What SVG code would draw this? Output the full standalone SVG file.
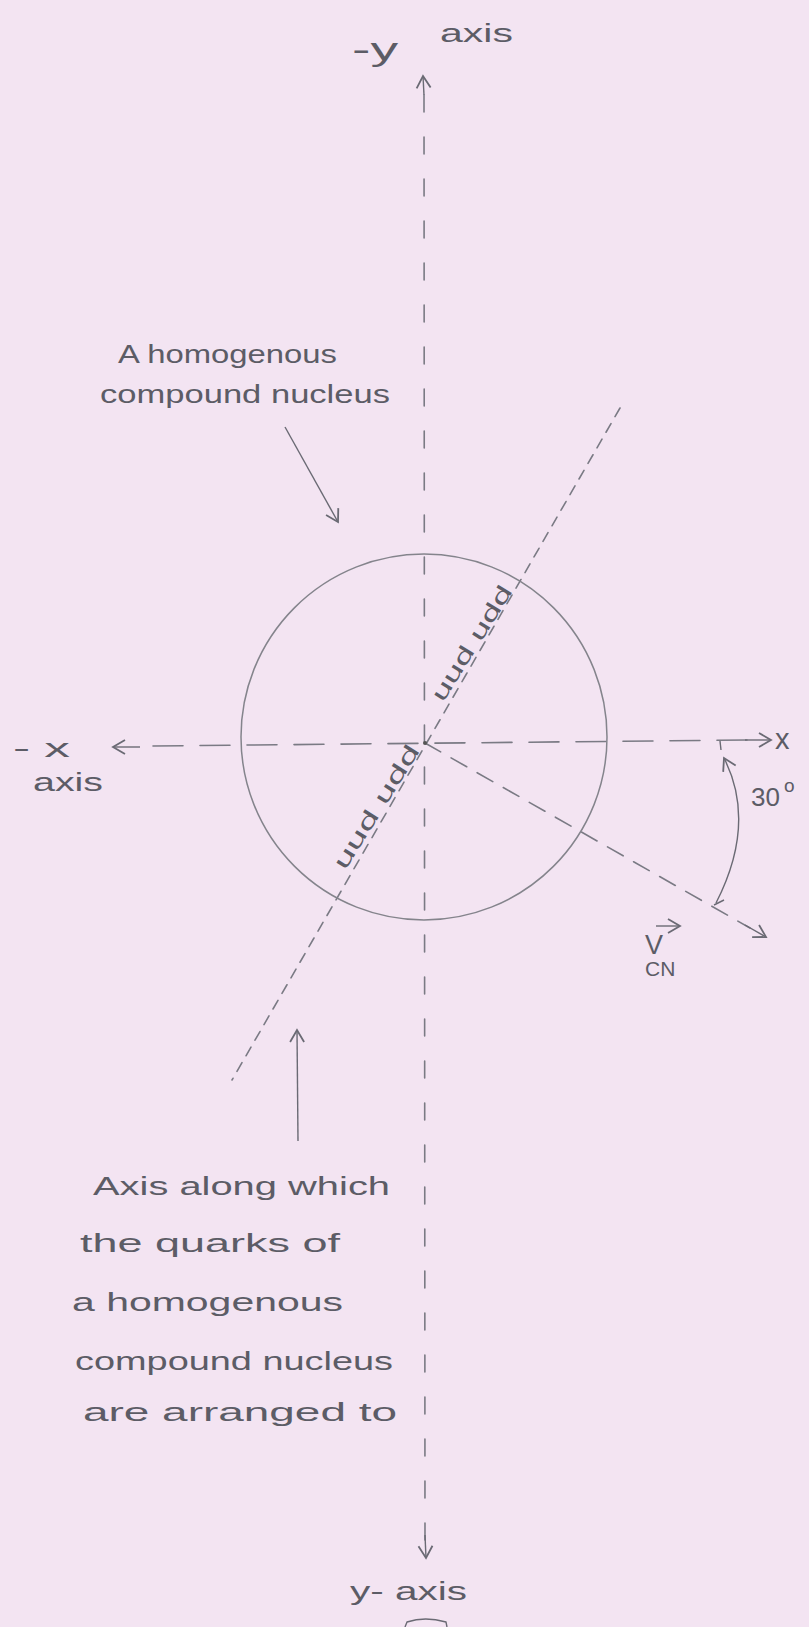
<svg xmlns="http://www.w3.org/2000/svg" width="809" height="1627" viewBox="0 0 809 1627">
<defs>
<style>
.t{font-family:"Liberation Sans","DejaVu Sans",sans-serif;fill:#5c5c66;font-size:25px}
.s{font-family:"Liberation Sans","DejaVu Sans",sans-serif;fill:#5c5c66}
.ln{stroke:#7a7a84;stroke-width:1.6;fill:none;stroke-linecap:round}
.pen{stroke:#6a6a74;stroke-width:1.4;fill:none}
</style>
<marker id="ah" markerUnits="userSpaceOnUse" markerWidth="18" markerHeight="18" refX="14" refY="8" orient="auto" viewBox="0 0 18 16">
<path d="M2,1 L14,8 L2,15" fill="none" stroke="#6a6a74" stroke-width="1.8"/>
</marker>
</defs>
<rect width="809" height="1627" fill="#f3e4f2"/>

<g id="connectors">
<!-- y axis -->
<line class="ln" x1="424" y1="95" x2="425" y2="1545" stroke-dasharray="17 25"/>
<line class="pen" x1="424" y1="95" x2="423" y2="76" marker-end="url(#ah)"/>
<line class="pen" x1="425" y1="1535" x2="426" y2="1558" marker-end="url(#ah)"/>
<!-- x axis -->
<line class="ln" x1="153" y1="746" x2="748" y2="740" stroke-dasharray="30 17"/>
<line class="pen" x1="140" y1="747" x2="113" y2="747" marker-end="url(#ah)"/>
<line class="pen" x1="745" y1="740" x2="771" y2="740" marker-end="url(#ah)"/>
<!-- quark axis -->
<line class="ln" x1="620" y1="408" x2="232" y2="1080" stroke-dasharray="10 8" stroke-width="1.9"/>
<!-- velocity direction -->
<line class="ln" x1="425" y1="743" x2="750" y2="928" stroke-dasharray="18 12"/>
<line class="pen" x1="745" y1="925" x2="766" y2="937" marker-end="url(#ah)"/>
<!-- 30 degree arc -->
<path class="pen" d="M716,903 Q757,823 724,758" marker-end="url(#ah)"/>
<line class="pen" x1="714" y1="905" x2="724" y2="900"/>
<line class="pen" x1="720" y1="741" x2="721" y2="750"/>
<!-- pointers -->
<line class="pen" x1="285" y1="427" x2="338" y2="522" marker-end="url(#ah)"/>
<line class="pen" x1="298" y1="1141" x2="297" y2="1030" marker-end="url(#ah)"/>
</g>

<g id="nucleus">
<circle cx="424" cy="737" r="183" fill="none" stroke="#84848c" stroke-width="1.5"/>
<circle cx="425" cy="743" r="2" fill="#555"/>
<text class="s" font-size="22" transform="translate(345,871) rotate(-58)" textLength="142" lengthAdjust="spacingAndGlyphs">uud udd</text>
<text class="s" font-size="22" transform="translate(443,703) rotate(-58)" textLength="132" lengthAdjust="spacingAndGlyphs">uud udd</text>
</g>

<g id="label-neg-y">
<text class="t" x="352" y="60" style="font-size:32px" textLength="46" lengthAdjust="spacingAndGlyphs">-y</text>
<text class="t" x="440" y="42" textLength="73" lengthAdjust="spacingAndGlyphs">axis</text>
</g>

<g id="label-pos-y">
<text class="t" x="350" y="1600" textLength="117" lengthAdjust="spacingAndGlyphs">y- axis</text>
</g>

<g id="label-neg-x">
<text class="t" x="13" y="757" textLength="57" lengthAdjust="spacingAndGlyphs">- x</text>
<text class="t" x="33" y="791" textLength="70" lengthAdjust="spacingAndGlyphs">axis</text>
</g>

<g id="label-pos-x">
<text class="t" x="775" y="749" style="font-size:29px">x</text>
</g>

<g id="label-angle">
<text class="t" x="751" y="806" style="font-size:26px">30</text>
<text class="t" x="784" y="792" style="font-size:19px">o</text>
</g>

<g id="label-velocity">
<text class="t" x="645" y="954" style="font-size:27px">V</text>
<line class="pen" x1="656" y1="926" x2="680" y2="926" marker-end="url(#ah)"/>
<text class="s" x="645" y="976" font-size="21">CN</text>
</g>

<g id="label-nucleus">
<text class="t" x="118" y="363" textLength="219" lengthAdjust="spacingAndGlyphs">A homogenous</text>
<text class="t" x="100" y="403" textLength="290" lengthAdjust="spacingAndGlyphs">compound nucleus</text>
</g>

<g id="label-quark-axis">
<text class="t" x="93" y="1195" style="font-size:26px" textLength="297" lengthAdjust="spacingAndGlyphs">Axis along which</text>
<text class="t" x="80" y="1252" style="font-size:26px" textLength="260" lengthAdjust="spacingAndGlyphs">the quarks of</text>
<text class="t" x="72" y="1311" style="font-size:26px" textLength="271" lengthAdjust="spacingAndGlyphs">a homogenous</text>
<text class="t" x="75" y="1370" style="font-size:26px" textLength="318" lengthAdjust="spacingAndGlyphs">compound nucleus</text>
<text class="t" x="83" y="1421" style="font-size:26px" textLength="314" lengthAdjust="spacingAndGlyphs">are arranged to</text>
</g>

<path class="pen" d="M405,1627 L407,1622 Q425,1616 446,1622 L447,1627"/>
</svg>
